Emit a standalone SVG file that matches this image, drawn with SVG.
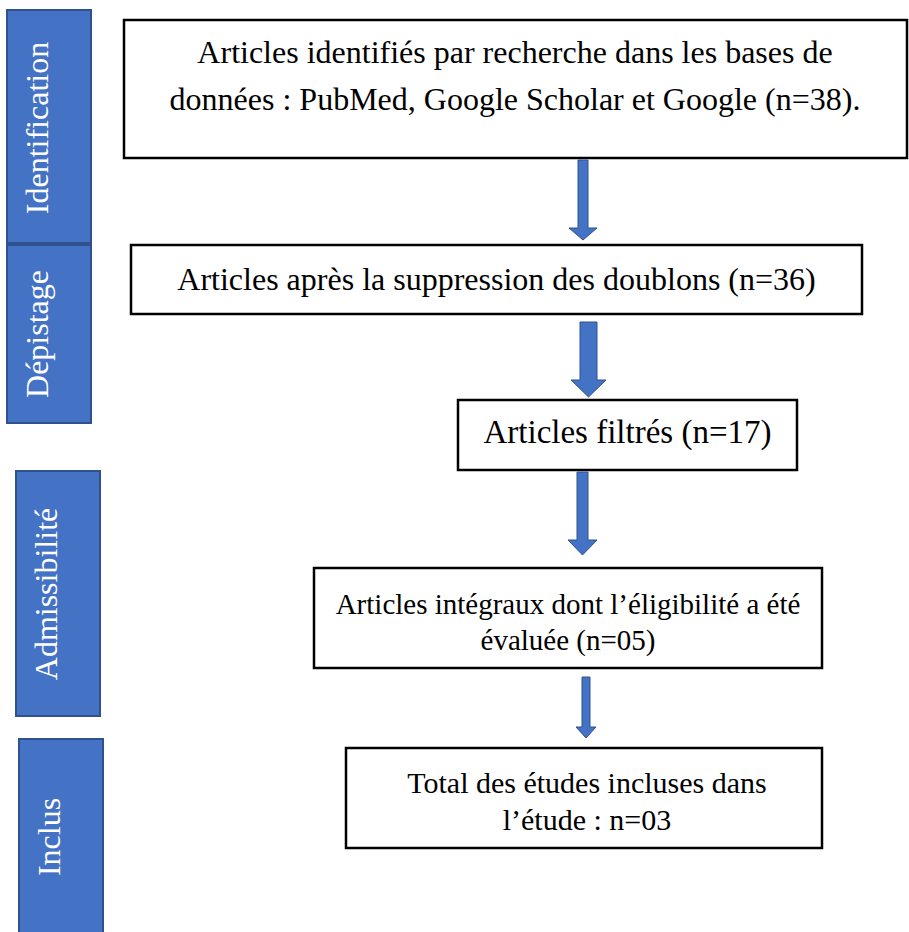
<svg xmlns="http://www.w3.org/2000/svg" width="909" height="932" viewBox="0 0 909 932">
<style>
.bar{fill:#4472C4;stroke:#2F528F;stroke-width:2}
.box{fill:#ffffff;stroke:#000000;stroke-width:2.5}
.lbl{font-family:"Liberation Serif","Times New Roman",serif;fill:#ffffff;font-size:32px;text-anchor:middle}
.txt{font-family:"Liberation Serif","Times New Roman",serif;fill:#000000;text-anchor:middle}
.arr{fill:#4472C4;stroke:#2F528F;stroke-width:1}
</style>
<rect width="909" height="932" fill="#ffffff"/>
<g id="stage-identification">
<rect class="bar" x="7" y="10" width="84" height="233"/>
<text class="lbl" transform="translate(48,128) rotate(-90)">Identification</text>
</g>
<g id="stage-depistage">
<rect class="bar" x="7" y="245" width="84" height="178"/>
<text class="lbl" transform="translate(48,334) rotate(-90)">Dépistage</text>
</g>
<g id="stage-admissibilite">
<rect class="bar" x="16" y="471" width="84" height="245"/>
<text class="lbl" transform="translate(57,594) rotate(-90)">Admissibilité</text>
</g>
<g id="stage-inclus">
<rect class="bar" x="19" y="739" width="84" height="200"/>
<text class="lbl" transform="translate(60,837) rotate(-90)">Inclus</text>
</g>
<g id="node-identified">
<rect class="box" x="124" y="20" width="783" height="138"/>
<text class="txt" font-size="32" x="515" y="63">Articles identifiés par recherche dans les bases de</text>
<text class="txt" font-size="32" x="515" y="110">données : PubMed, Google Scholar et Google (n=38).</text>
</g>
<g id="node-dedup">
<rect class="box" x="131" y="245" width="731" height="69"/>
<text class="txt" font-size="32" x="496.5" y="290">Articles après la suppression des doublons (n=36)</text>
</g>
<g id="node-filtered">
<rect class="box" x="458" y="400" width="339" height="70"/>
<text class="txt" font-size="33" x="627.5" y="443">Articles filtrés (n=17)</text>
</g>
<g id="node-eligibility">
<rect class="box" x="314" y="568" width="508" height="100"/>
<text class="txt" font-size="29" x="568" y="614">Articles intégraux dont l’éligibilité a été</text>
<text class="txt" font-size="29" x="568" y="650">évaluée (n=05)</text>
</g>
<g id="node-included">
<rect class="box" x="346" y="748" width="476" height="100"/>
<text class="txt" font-size="30" x="587" y="793">Total des études incluses dans</text>
<text class="txt" font-size="30" x="587" y="830">l’étude : n=03</text>
</g>
<g id="connectors">
<polygon class="arr" points="578,160 588,160 588,228 597,228 583,240 569,228 578,228"/>
<polygon class="arr" points="580,322 597,322 597,380 606,380 588.5,397 571,380 580,380"/>
<polygon class="arr" points="577,472 588,472 588,540 597,540 582.5,555 568,540 577,540"/>
<polygon class="arr" points="582,677 590,677 590,727 596,727 586,738 576,727 582,727"/>
</g>
</svg>
